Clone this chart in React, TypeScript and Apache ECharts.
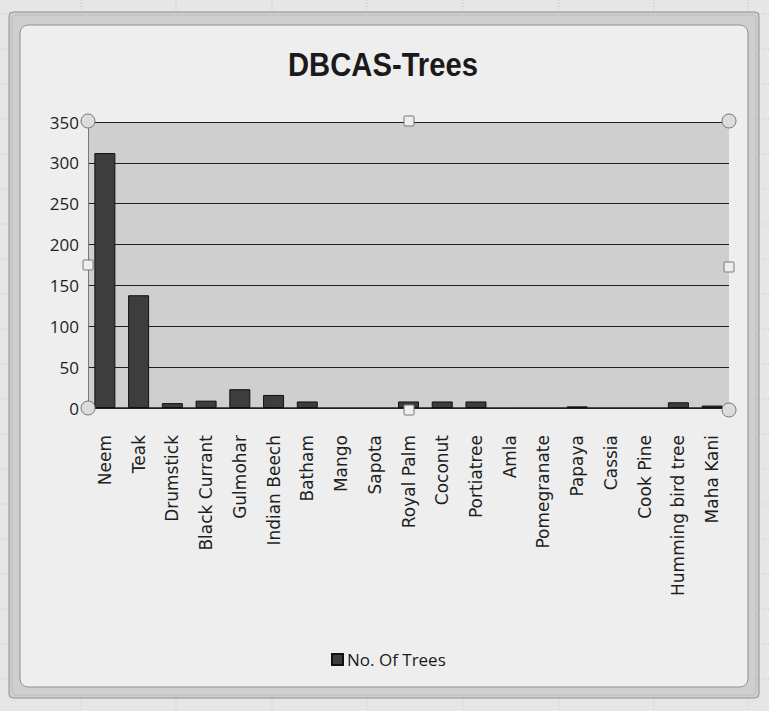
import React, { useEffect, useRef } from "react";
import * as echarts from "echarts";

const categories = [
  "Neem", "Teak", "Drumstick", "Black Currant", "Gulmohar", "Indian Beech",
  "Batham", "Mango", "Sapota", "Royal Palm", "Coconut", "Portiatree", "Amla",
  "Pomegranate", "Papaya", "Cassia", "Cook Pine", "Humming bird tree", "Maha Kani",
];
const treeCounts = [312, 138, 6, 9, 23, 16, 8, 0, 0, 8, 8, 8, 0, 0, 2, 0, 0, 7, 3];
const seriesName = "No. Of Trees";
const titleText = "DBCAS-Trees";
const yMax = 350;
const yInterval = 50;

const W = 769;
const H = 711;

export default function App() {
  const ref = useRef<HTMLDivElement>(null);
  useEffect(() => {
    if (!ref.current) return;
    const chart = echarts.init(ref.current, null, { renderer: "svg", width: W, height: H });

    const graphics: any[] = [];
    // sheet background
    graphics.push({ type: "rect", z: -100, silent: true, shape: { x: 0, y: 0, width: W, height: H }, style: { fill: "#e6e6e6" } });
    // faint spreadsheet gridlines
    const vx = [81, 176, 272, 367, 463, 559, 654, 748];
    vx.forEach((x) => graphics.push({ type: "line", z: -99, silent: true, shape: { x1: x, y1: 0, x2: x, y2: H }, style: { stroke: "#c4c4c4", lineWidth: 1, lineDash: [1, 2] } }));
    for (let y = 14; y < H; y += 35) {
      graphics.push({ type: "line", z: -99, silent: true, shape: { x1: 0, y1: y, x2: W, y2: y }, style: { stroke: "#c4c4c4", lineWidth: 1, lineDash: [1, 2] } });
    }
    // frame band
    graphics.push({ type: "rect", z: -98, silent: true, shape: { x: 9, y: 12, width: 750, height: 686, r: 4 }, style: { fill: "#cfcfcf", stroke: "#8f8f8f", lineWidth: 1 } });
    graphics.push({ type: "rect", z: -97, silent: true, shape: { x: 12, y: 15, width: 744, height: 680, r: 4 }, style: { fill: "none", stroke: "#a8a8a8", lineWidth: 1, lineDash: [1, 1] } });
    // chart area
    graphics.push({ type: "rect", z: -96, silent: true, shape: { x: 20, y: 25, width: 728, height: 662, r: 8 }, style: { fill: "#eeeeee", stroke: "#8f8f8f", lineWidth: 1 } });
    // title
    graphics.push({
      type: "text", z: 50, silent: true, x: 383, y: 64, scaleX: 0.86,
      style: {
        text: titleText, fill: "#1a1a1a",
        font: "bold 34px 'Liberation Sans', Arial, sans-serif",
        textAlign: "center", textVerticalAlign: "middle",
      },
    });
    // selection handles
    const circles = [[88, 121], [729, 121], [88, 408], [729, 410]];
    circles.forEach(([cx, cy]) => graphics.push({ type: "circle", z: 100, silent: true, shape: { cx, cy, r: 7 }, style: { fill: "#dcdcdc", stroke: "#777", lineWidth: 1 } }));
    const squares = [[409, 121], [88, 265], [729, 267], [409, 410]];
    squares.forEach(([cx, cy]) => graphics.push({ type: "rect", z: 100, silent: true, shape: { x: cx - 5, y: cy - 5, width: 10, height: 10, r: 1 }, style: { fill: "#eeeeee", stroke: "#777", lineWidth: 1 } }));

    const barData = treeCounts.map((v) => (v === 0 ? { value: v, itemStyle: { borderWidth: 0 } } : v));

    chart.setOption({
      animation: false,
      backgroundColor: "transparent",
      graphic: graphics,
      legend: {
        data: [seriesName],
        left: 326,
        top: 646,
        icon: "rect",
        itemWidth: 11,
        itemHeight: 11,
        itemGap: 4,
        textStyle: { fontFamily: "Open Sans", fontSize: 17, color: "#1a1a1a", padding: [0, 0, 0, -1] },
      },
      grid: {
        left: 88,
        top: 122,
        width: 641,
        height: 286,
        show: true,
        backgroundColor: "#cfcfcf",
        borderWidth: 0,
      },
      xAxis: {
        type: "category",
        data: categories,
        axisLine: { show: true, lineStyle: { color: "#222", width: 1.5 } },
        axisTick: { show: false },
        axisLabel: {
          interval: 0,
          rotate: 90,
          margin: 27,
          fontFamily: "DejaVu Sans",
          fontSize: 17,
          color: "#1e1e1e",
        },
      },
      yAxis: {
        type: "value",
        min: 0,
        max: yMax,
        interval: yInterval,
        axisLine: { show: true, lineStyle: { color: "#777", width: 1 } },
        axisTick: { show: false },
        splitLine: { show: true, lineStyle: { color: "#1e1e1e", width: 1.2 } },
        axisLabel: {
          margin: 9,
          fontFamily: "Open Sans",
          fontSize: 17,
          color: "#1e1e1e",
        },
      },
      series: [
        {
          name: seriesName,
          type: "bar",
          data: barData,
          barWidth: 21,
          itemStyle: { color: "#3d3d3d", borderColor: "#111", borderWidth: 1 },
        },
      ],
    });
    return () => chart.dispose();
  }, []);

  return (
    <div style={{ position: "fixed", left: 0, top: 0, width: W, height: H, background: "#e6e6e6" }}>
      <div ref={ref} style={{ width: W, height: H }} />
    </div>
  );
}
